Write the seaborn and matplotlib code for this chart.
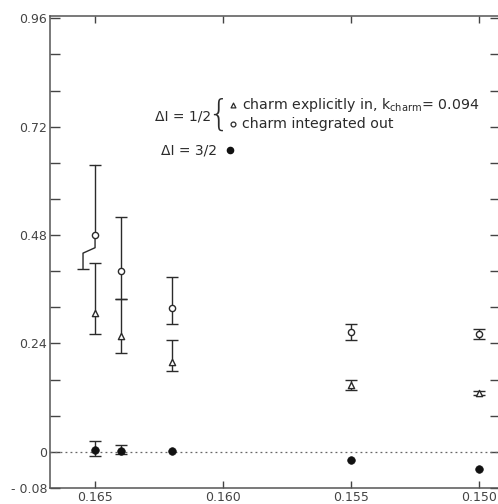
import numpy as np
import pandas as pd
import seaborn as sns
import matplotlib
matplotlib.use("Agg")
import matplotlib.pyplot as plt

# hopping parameter values
kappa = [0.165, 0.164, 0.162, 0.155, 0.150]

# Delta I = 1/2, charm explicitly in
in_val = [0.307, 0.257, 0.199, 0.148, 0.130]
in_lo = [0.047, 0.039, 0.019, 0.010, 0.005]
in_hi = [0.111, 0.082, 0.048, 0.012, 0.005]

# Delta I = 1/2, charm integrated out
out_val = [0.480, 0.401, 0.319, 0.266, 0.262]
out_lo = [0.076, 0.062, 0.036, 0.018, 0.012]
out_hi = [0.155, 0.119, 0.068, 0.017, 0.010]

# Delta I = 3/2
i32_val = [0.004, 0.003, 0.002, -0.017, -0.037]
i32_lo = [0.013, 0.007, 0.0, 0.0, 0.0]
i32_hi = [0.020, 0.012, 0.0, 0.0, 0.0]

x_ticks = [0.165, 0.160, 0.155, 0.150]
x_ticklabels = ["0.165", "0.160", "0.155", "0.150"]
y_major = [0.96, 0.72, 0.48, 0.24, 0.0, -0.08]
y_labels = ["0.96", "0.72", "0.48", "0.24", "0", "- 0.08"]

sns.set_style("ticks")
plt.rcParams["font.family"] = ["DejaVu Sans"]
plt.rcParams["mathtext.fontset"] = "dejavusans"

INK = "#2b2b2b"
GREY = "#444444"

fig = plt.figure(figsize=(4.98, 5.04), dpi=100)
# the frame runs just past the right edge of the canvas
ax = fig.add_axes([50 / 498, 16 / 504, 450 / 498, 472 / 504])

df_in = pd.DataFrame({"kappa": kappa, "val": in_val})
df_out = pd.DataFrame({"kappa": kappa, "val": out_val})
df_32 = pd.DataFrame({"kappa": kappa, "val": i32_val})

eb = dict(fmt="none", ecolor=INK, elinewidth=1.0, capsize=4.5, capthick=1.0, zorder=2)

# error bars, charm explicitly in
ax.errorbar(kappa, in_val, yerr=[in_lo, in_hi], **eb)
# error bars, charm integrated out (first point drawn by hand below, its
# lower bar is shifted sideways to clear the neighbouring bar)
ax.errorbar(kappa[1:], out_val[1:], yerr=[out_lo[1:], out_hi[1:]], **eb)
x0, y0 = kappa[0], out_val[0]
ax.plot([x0, x0], [y0, y0 + out_hi[0]], color=INK, lw=1.0, zorder=2)
ax.plot([x0], [y0 + out_hi[0]], marker="_", ms=9, mew=1.0, color=INK, zorder=2)
shift = 0.00047
ax.plot([x0, x0, x0 + shift, x0 + shift],
        [y0, y0 - 0.028, y0 - 0.040, y0 - out_lo[0]], color=INK, lw=1.0, zorder=2)
ax.plot([x0 + shift], [y0 - out_lo[0]], marker="_", ms=9, mew=1.0, color=INK, zorder=2)
# error bars, Delta I = 3/2
ax.errorbar(kappa[:2], i32_val[:2], yerr=[i32_lo[:2], i32_hi[:2]], **eb)

# markers
sns.scatterplot(data=df_in, x="kappa", y="val", marker="^", s=20,
                facecolor="white", edgecolor=INK, linewidth=1.0, ax=ax, zorder=3)
sns.scatterplot(data=df_out, x="kappa", y="val", marker="o", s=20,
                facecolor="white", edgecolor=INK, linewidth=1.0, ax=ax, zorder=3)
sns.scatterplot(data=df_32, x="kappa", y="val", marker="o", s=30,
                color="#111111", edgecolor="#111111", linewidth=0.5, ax=ax, zorder=3)

# zero reference line
ax.axhline(0, color="#666666", lw=0.9, ls=(0, (1.5, 2.5)), zorder=1)

ax.set_xlim(0.16676, 0.14918)
ax.set_ylim(-0.08, 0.965)
ax.set_xlabel("")
ax.set_ylabel("")

ax.set_xticks(x_ticks)
ax.set_xticklabels(x_ticklabels)
yt = np.arange(-0.08, 0.97, 0.08)
ax.set_yticks(yt)
lab = {round(v, 2): t for v, t in zip(y_major, y_labels)}
ax.set_yticklabels([lab.get(round(v, 2), "") for v in yt])

ax.tick_params(axis="both", direction="in", colors=GREY, labelcolor=GREY,
               labelsize=9, width=1.0)
ax.tick_params(axis="y", length=7, pad=2, right=True)
ax.tick_params(axis="x", length=5, pad=2, top=True)
for s in ax.spines.values():
    s.set_color("#555555")
    s.set_linewidth(1.1)

# key
tf = ax.transAxes
fs = 10.2
ax.text(0.296, 0.788, "ΔI = 1/2", transform=tf, ha="center", va="center",
        fontsize=10, color=INK)
ax.text(0.374, 0.790, "{", transform=tf, ha="center", va="center",
        fontsize=25, color=INK, fontweight="light")
ax.scatter([0.407], [0.811], transform=tf, marker="^", s=12,
           facecolor="white", edgecolor=INK, linewidth=0.9, zorder=4)
ax.text(0.427, 0.811, r"charm explicitly in, k$_{\mathrm{charm}}$= 0.094",
        transform=tf, ha="left", va="center", fontsize=fs, color=INK)
ax.scatter([0.407], [0.771], transform=tf, marker="o", s=12,
           facecolor="white", edgecolor=INK, linewidth=0.9, zorder=4)
ax.text(0.427, 0.771, "charm integrated out", transform=tf, ha="left",
        va="center", fontsize=fs, color=INK)
ax.text(0.309, 0.716, "ΔI = 3/2", transform=tf, ha="center", va="center",
        fontsize=10, color=INK)
ax.scatter([0.400], [0.716], transform=tf, marker="o", s=20,
           color="#111111", zorder=4)

fig.savefig("out.png", dpi=100, facecolor="white")
